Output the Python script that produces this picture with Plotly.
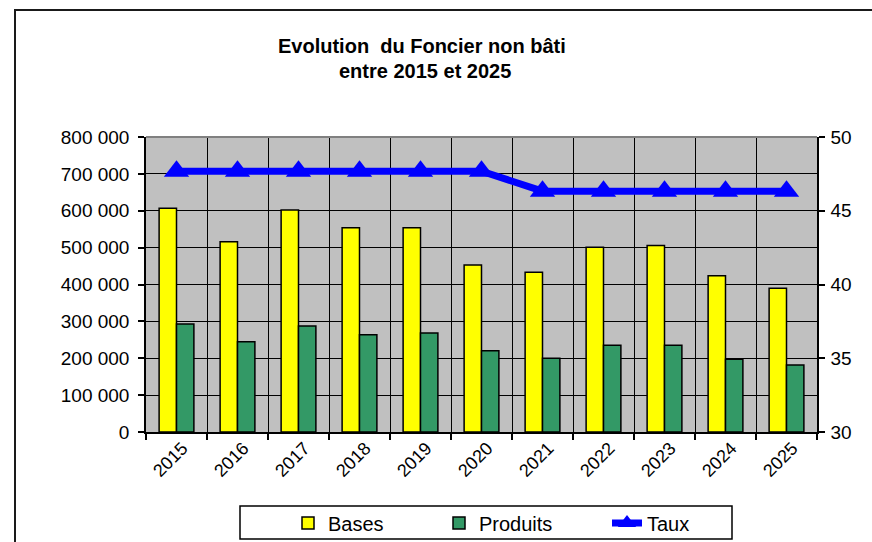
import plotly.graph_objects as go

annees = ["2015", "2016", "2017", "2018", "2019", "2020", "2021", "2022", "2023", "2024", "2025"]
bases = [607000, 516000, 602000, 554000, 554000, 453000, 433000, 501000, 506000, 424000, 390000]
produits = [293000, 245000, 287500, 264000, 268500, 220500, 200000, 235000, 235000, 197000, 182000]
taux = [47.68, 47.68, 47.68, 47.68, 47.68, 47.68, 46.33, 46.33, 46.33, 46.33, 46.33]

left_ticks = [0, 100000, 200000, 300000, 400000, 500000, 600000, 700000, 800000]
left_labels = ["0", "100 000", "200 000", "300 000", "400 000", "500 000", "600 000", "700 000", "800 000"]
right_ticks = [30, 35, 40, 45, 50]

FONT = "Liberation Sans, Arial, sans-serif"

W, H = 872, 542
L, R, T, B = 146, 55, 137, 110
pw, ph = W - L - R, H - T - B


def px_x(x):
    return (x - L) / pw


def px_y(y):
    return (H - B - y) / ph


fig = go.Figure()
fig.add_trace(go.Bar(x=annees, y=bases, name="Bases", legend="legend",
                     marker=dict(color="#FFFF00", line=dict(color="black", width=1.5))))
fig.add_trace(go.Bar(x=annees, y=produits, name="Produits", legend="legend2",
                     marker=dict(color="#339966", line=dict(color="black", width=1.5))))
fig.add_trace(go.Scatter(x=annees, y=taux, name="Taux", yaxis="y2", mode="lines+markers", legend="legend3",
                         line=dict(color="#0000FF", width=7),
                         marker=dict(symbol="triangle-up", size=22, color="#0000FF")))

leg_common = dict(orientation="h", yanchor="middle", y=px_y(523), xanchor="left",
                  borderwidth=0, bgcolor="rgba(0,0,0,0)", font=dict(family=FONT, size=20))

fig.update_layout(
    width=W, height=H,
    margin=dict(l=L, r=R, t=T, b=B, autoexpand=False),
    paper_bgcolor="white", plot_bgcolor="#C0C0C0",
    barmode="group", bargap=0.43, bargroupgap=0,
    font=dict(family=FONT, size=19, color="black"),
    showlegend=True,
    legend=dict(x=px_x(288), **leg_common),
    legend2=dict(x=px_x(439), **leg_common),
    legend3=dict(x=px_x(607), **leg_common),
    xaxis=dict(type="category", range=[-0.5, len(annees) - 0.5], tickson="boundaries",
               showgrid=True, gridcolor="black", gridwidth=1,
               ticks="outside", ticklen=6, tickcolor="black", tickwidth=1.5,
               showline=True, linecolor="black", linewidth=1.5, tickangle=-45,
               ticklabelshift=6, ticklabelstandoff=-3,
               tickfont=dict(family=FONT, size=18), zeroline=False),
    yaxis=dict(range=[0, 800000], tickvals=left_ticks, ticktext=left_labels, showgrid=True,
               gridcolor="black", gridwidth=1, ticks="outside", ticklen=6, tickcolor="black", tickwidth=1.5,
               showline=True, linecolor="black", linewidth=1.5, zeroline=False, ticklabelstandoff=5,
               tickfont=dict(family=FONT, size=19)),
    yaxis2=dict(range=[30, 50], tickvals=right_ticks, overlaying="y", side="right", showgrid=False,
                ticks="outside", ticklen=6, tickcolor="black", tickwidth=1.5,
                showline=True, linecolor="black", linewidth=1.5, zeroline=False, ticklabelstandoff=2,
                tickfont=dict(family=FONT, size=19)),
    annotations=[
        dict(text="<b>Evolution  du Foncier non bâti</b>", x=px_x(422), y=px_y(46),
             xref="paper", yref="paper", xanchor="center", yanchor="middle", showarrow=False,
             font=dict(family=FONT, size=20)),
        dict(text="<b>entre 2015 et 2025</b>", x=px_x(425), y=px_y(71),
             xref="paper", yref="paper", xanchor="center", yanchor="middle", showarrow=False,
             font=dict(family=FONT, size=20)),
    ],
    shapes=[
        dict(type="rect", xref="paper", yref="paper", x0=px_x(15), x1=px_x(900), y0=px_y(580),
             y1=px_y(10), line=dict(color="#1a1a1a", width=2), layer="below"),
        dict(type="line", xref="paper", yref="paper", x0=0, x1=1, y0=1, y1=1,
             line=dict(color="#808080", width=2)),
        dict(type="rect", xref="paper", yref="paper", x0=px_x(240), x1=px_x(732), y0=px_y(539),
             y1=px_y(506), line=dict(color="black", width=1.5), layer="below"),
    ],
)

fig.write_html("out.html", config={"displayModeBar": False},
               post_script="document.body.style.margin='0px';document.body.style.overflow='hidden';")
